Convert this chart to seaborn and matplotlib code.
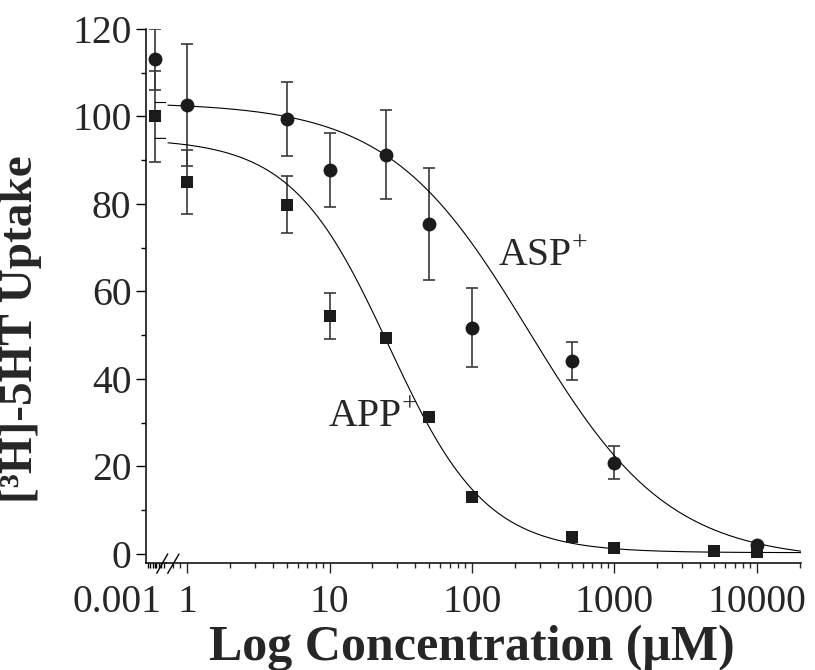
import numpy as np
import pandas as pd
import seaborn as sns
import matplotlib.pyplot as plt
from matplotlib.ticker import MultipleLocator, LogLocator, NullFormatter, FixedLocator

sns.set_style("ticks")
plt.rcParams["font.family"] = ["Liberation Serif", "DejaVu Serif"]
plt.rcParams["mathtext.fontset"] = "custom"
plt.rcParams["mathtext.rm"] = "Liberation Serif"
plt.rcParams["mathtext.bf"] = "Liberation Serif:bold"

# control (no drug), shown on the broken part of the axis
ctrl_conc = [0.001]
asp_ctrl = [113.1]
asp_ctrl_err = [7.0]
app_ctrl = [100.0]
app_ctrl_err = [10.3]

# ASP+ (circles)
asp_conc = [1, 5, 10, 25, 50, 100, 500, 1000, 10000]
asp_uptake = [102.6, 99.4, 87.7, 91.3, 75.4, 51.7, 44.1, 20.9, 2.1]
asp_err = [14.0, 8.5, 8.5, 10.2, 12.8, 9.0, 4.3, 3.8, 0.0]

# APP+ (squares)
app_conc = [1, 5, 10, 25, 50, 100, 500, 1000, 5000, 10000]
app_uptake = [85.0, 79.8, 54.4, 49.4, 31.2, 13.1, 3.8, 1.3, 0.75, 0.5]
app_err = [7.3, 6.5, 5.3, 0.0, 0.0, 0.0, 0.0, 0.0, 0.0, 0.0]

# fitted sigmoid: top, bottom, log10 IC50, hill slope
asp_fit = (103.2, -1.5, 2.40, 0.88)
app_fit = (95.0, 0.3, 1.415, 1.27)

x_ticks = [1, 10, 100, 1000, 10000]
x_ticklabels = ["1", "10", "100", "1000", "10000"]


def sigmoid(x, p):
    top, bottom, logic50, hill = p
    return bottom + (top - bottom) / (1 + 10 ** ((np.log10(x) - logic50) * hill))


ink = "#1c1a1b"
bar_col = "#3a3a3a"
fs = 28.5
fs_lab = 36

fig = plt.figure(figsize=(8.15, 6.7), dpi=100)
ax1 = fig.add_axes([146 / 815, 1 - 563 / 670, 20 / 815, 534 / 670])
ax2 = fig.add_axes([166 / 815, 1 - 563 / 670, 635 / 815, 534 / 670])

ylim = (-2.06, 120)
ebar = dict(fmt="none", ecolor=bar_col, elinewidth=1.2, capsize=4, capthick=1.2, zorder=2)

# ---- left part (control)
ax1.set_xlim(0.0001, 0.0021)
ax1.set_ylim(*ylim)
ax1.errorbar(ctrl_conc, asp_ctrl, yerr=asp_ctrl_err, **ebar)
ax1.errorbar(ctrl_conc, app_ctrl, yerr=app_ctrl_err, **ebar)
sns.scatterplot(x=ctrl_conc, y=asp_ctrl, marker="o", s=100, color=ink, linewidth=0, ax=ax1, zorder=3, clip_on=False)
sns.scatterplot(x=ctrl_conc, y=app_ctrl, marker="s", s=85, color=ink, linewidth=0, ax=ax1, zorder=3, clip_on=False)
xs1 = np.linspace(0.001, 0.0021, 10)
ax1.plot(xs1, sigmoid(xs1, asp_fit), color="black", lw=0.8)
ax1.plot(xs1, sigmoid(xs1, app_fit), color="black", lw=0.8)

ax1.yaxis.set_major_locator(MultipleLocator(20))
ax1.yaxis.set_minor_locator(MultipleLocator(10))
ax1.set_xticks(ctrl_conc, labels=[""])
ax1.xaxis.set_minor_locator(MultipleLocator(0.00027))
ax1.annotate("0.001", xy=(ctrl_conc[0], 0), xycoords=("data", "axes fraction"),
             xytext=(5, -15), textcoords="offset points", ha="right", va="top", fontsize=fs)
ax1.tick_params(axis="both", which="major", labelsize=fs, direction="out", length=7, width=1, color="black")
ax1.tick_params(axis="y", which="minor", direction="out", length=3.5, width=1, color="black")
ax1.tick_params(axis="x", which="major", length=3.5)
ax1.tick_params(axis="x", which="minor", direction="out", length=3.5, width=1, color="black")
ax1.spines["right"].set_visible(False)
ax1.spines["top"].set_visible(False)

# ---- main log part
ax2.set_xscale("log")
ax2.set_xlim(0.712, 20370)
ax2.set_ylim(*ylim)
ax2.errorbar(asp_conc, asp_uptake, yerr=asp_err, **ebar)
ax2.errorbar(app_conc, app_uptake, yerr=app_err, **ebar)
xs2 = np.logspace(np.log10(0.735), np.log10(20370), 300)
ax2.plot(xs2, sigmoid(xs2, asp_fit), color="black", lw=0.8, zorder=2)
ax2.plot(xs2, sigmoid(xs2, app_fit), color="black", lw=0.8, zorder=2)
sns.scatterplot(x=asp_conc, y=asp_uptake, marker="o", s=100, color=ink, linewidth=0, ax=ax2, zorder=3)
sns.scatterplot(x=app_conc, y=app_uptake, marker="s", s=85, color=ink, linewidth=0, ax=ax2, zorder=3)

ax2.xaxis.set_major_locator(FixedLocator(x_ticks))
ax2.set_xticklabels(x_ticklabels)
ax2.xaxis.set_minor_locator(LogLocator(base=10, subs=np.arange(2, 10)))
ax2.xaxis.set_minor_formatter(NullFormatter())
ax2.tick_params(axis="x", which="major", labelsize=fs, direction="out", length=7, width=1, pad=8)
ax2.tick_params(axis="x", which="minor", direction="out", length=3.5, width=1)
ax2.tick_params(axis="y", which="both", left=False, labelleft=False)
ax2.spines["left"].set_visible(False)
ax2.spines["right"].set_visible(False)
ax2.spines["top"].set_visible(False)

for ax in (ax1, ax2):
    ax.spines["bottom"].set_linewidth(1.1)
    ax.spines["left"].set_linewidth(1.1)
    ax.spines["bottom"].set_color("black")
    ax.spines["left"].set_color("black")
    ax.set_facecolor("none")

# axis break marks
kw = dict(transform=ax2.transAxes, color="black", lw=1.0, clip_on=False)
ax2.plot([-0.0146, 0.0027], [-0.0193, 0.0169], **kw)
ax2.plot([0.0027, 0.0205], [-0.0193, 0.0169], **kw)

# curve labels
ax2.text(152, 65.8, "ASP$^{+}$", fontsize=fs, ha="left", va="baseline")
ax2.text(9.76, 29.1, "APP$^{+}$", fontsize=fs, ha="left", va="baseline")

fig.text(472 / 815, 1 - 648 / 670, "Log Concentration (μM)", fontsize=fs_lab, fontweight="bold",
         ha="center", va="center")
fig.text(21 / 815, 1 - 329 / 670, "[³H]-5HT Uptake", fontsize=34, fontweight="bold",
         ha="center", va="center", rotation=90)

fig.savefig("out.png", dpi=100)
